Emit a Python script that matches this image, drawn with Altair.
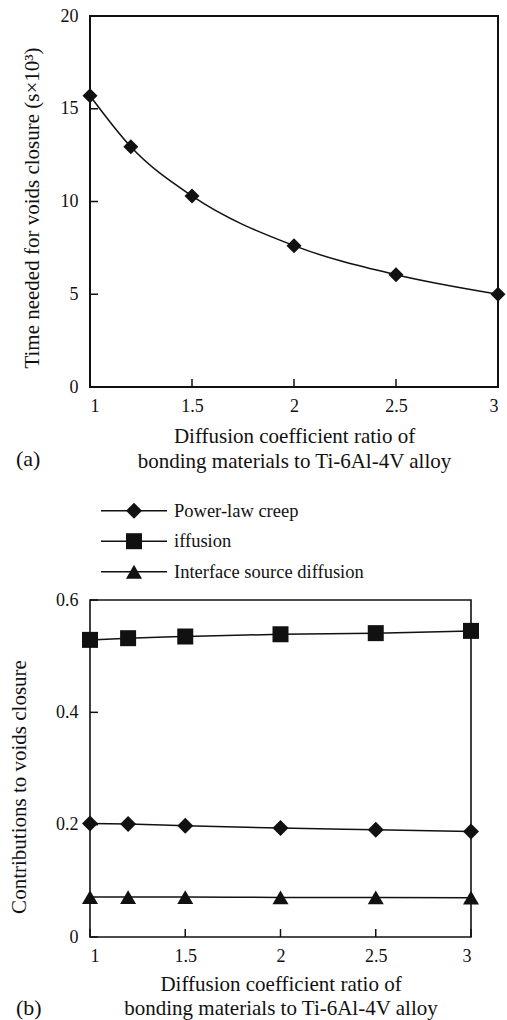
import altair as alt
import pandas as pd

# ---------------- data ----------------
ratio = [1, 1.2, 1.5, 2, 2.5, 3]
time_k = [15.7, 12.95, 10.3, 7.62, 6.05, 5.0]

series_names = ["Power-law creep", "iffusion", "Interface source diffusion"]
series_order = [0, 1, 2]
series_shapes = ["diamond", "square", "triangle-up"]
power_law = [0.202, 0.201, 0.198, 0.194, 0.191, 0.188]
diffusion = [0.529, 0.532, 0.535, 0.539, 0.541, 0.545]
interface = [0.071, 0.071, 0.071, 0.0705, 0.0705, 0.070]

x_ticks = [1, 1.5, 2, 2.5, 3]
y_ticks_a = [0, 5, 10, 15, 20]
y_ticks_b = [0, 0.2, 0.4, 0.6]

x_title = ["Diffusion coefficient ratio of", "bonding materials to Ti-6Al-4V alloy"]
y_title_a = "Time needed for voids closure (s×10³)"
y_title_b = "Contributions to voids closure"

FONT = "Liberation Serif"
INK = "#111111"

W1, H1 = 408, 371
W2, H2 = 381, 337
HL = 193
TICK = 8


def x_enc(tpad, lh):
    return alt.X(
        "ratio:Q",
        scale=alt.Scale(domain=[1, 3], nice=False, zero=False),
        axis=alt.Axis(values=x_ticks, format="~g", title=x_title,
                      labelPadding=10, titlePadding=tpad, titleLineHeight=lh),
    )


def y_enc(field, domain, ticks, title, tpad, title_y):
    return alt.Y(
        field,
        scale=alt.Scale(domain=domain, nice=False),
        axis=alt.Axis(values=ticks, format="~g", title=title,
                      labelPadding=12, titlePadding=tpad, titleY=title_y),
    )


# ---------------- panel (a) ----------------
df_a = pd.DataFrame({"ratio": ratio, "time": time_k})
df_xt = pd.DataFrame({"ratio": x_ticks})
df_yta = pd.DataFrame({"time": y_ticks_a})
xa = lambda: x_enc(10, 25)
ya = lambda: y_enc("time:Q", [0, 20], y_ticks_a, y_title_a, 18, H1 / 2 + 6)

line_a = alt.Chart(df_a).mark_line(color=INK, strokeWidth=1.5, interpolate="monotone").encode(x=xa(), y=ya())
pts_a = alt.Chart(df_a).mark_point(shape="diamond", filled=True, color=INK, opacity=1, size=225).encode(x=xa(), y=ya())
xt_a = alt.Chart(df_xt).mark_rule(color=INK, strokeWidth=1.5).encode(
    x=xa(), y=alt.value(H1), y2=alt.value(H1 - TICK))
yt_a = alt.Chart(df_yta).mark_rule(color=INK, strokeWidth=1.5).encode(
    y=ya(), x=alt.value(0), x2=alt.value(TICK))
lab_a = alt.Chart(pd.DataFrame({"label": ["(a)"]})).mark_text(
    align="left", baseline="alphabetic", font=FONT, fontSize=22, color=INK
).encode(text="label:N", x=alt.value(-74), y=alt.value(450))

panel_a = alt.layer(line_a, xt_a, yt_a, pts_a, lab_a).properties(
    width=W1, height=H1, view=alt.ViewBackground(stroke=INK, strokeWidth=2))

# ---------------- legend panel ----------------
df_leg = pd.DataFrame({"series": series_names, "order": series_order})
# rows 30.5 px apart, first row 113.7 px below the panel top
leg_y = alt.Y("order:Q", axis=None,
              scale=alt.Scale(domain=[-3.728, 2.600], nice=False, zero=False, reverse=True))
shape_enc = alt.Shape("series:N", scale=alt.Scale(domain=series_names, range=series_shapes), legend=None)

leg_rule = alt.Chart(df_leg).mark_rule(color=INK, strokeWidth=1.5).encode(
    y=leg_y, x=alt.value(11), x2=alt.value(77))
leg_pts = alt.Chart(df_leg).mark_point(filled=True, color=INK, opacity=1, size=256).encode(
    y=leg_y, x=alt.value(44), shape=shape_enc)
leg_txt = alt.Chart(df_leg).mark_text(align="left", baseline="middle", font=FONT, fontSize=18.5, color=INK).encode(
    y=leg_y, x=alt.value(84), text="series:N")
legend_panel = alt.layer(leg_rule, leg_pts, leg_txt).properties(
    width=300, height=HL, view=alt.ViewBackground(stroke="transparent"))

# ---------------- panel (b) ----------------
rows = []
for name, vals in zip(series_names, [power_law, diffusion, interface]):
    for r, v in zip(ratio, vals):
        rows.append({"ratio": r, "contribution": v, "series": name})
df_b = pd.DataFrame(rows)
df_ytb = pd.DataFrame({"contribution": y_ticks_b})
xb = lambda: x_enc(8, 24)
yb = lambda: y_enc("contribution:Q", [0, 0.6], y_ticks_b, y_title_b, 26, H2 / 2 + 18)

line_b = alt.Chart(df_b).mark_line(color=INK, strokeWidth=1.5, interpolate="monotone").encode(
    x=xb(), y=yb(), detail="series:N")
pts_b = alt.Chart(df_b).mark_point(filled=True, color=INK, opacity=1, size=256).encode(
    x=xb(), y=yb(), shape=shape_enc)
xt_b = alt.Chart(df_xt).mark_rule(color=INK, strokeWidth=1.5).encode(
    x=xb(), y=alt.value(H2), y2=alt.value(H2 - TICK))
yt_b = alt.Chart(df_ytb).mark_rule(color=INK, strokeWidth=1.5).encode(
    y=yb(), x=alt.value(0), x2=alt.value(TICK))
lab_b = alt.Chart(pd.DataFrame({"label": ["(b)"]})).mark_text(
    align="left", baseline="alphabetic", font=FONT, fontSize=22, color=INK
).encode(text="label:N", x=alt.value(-74), y=alt.value(415))

panel_b = alt.layer(line_b, xt_b, yt_b, pts_b, lab_b).properties(
    width=W2, height=H2, view=alt.ViewBackground(stroke=INK, strokeWidth=1.6))

chart = alt.vconcat(panel_a, legend_panel, panel_b, spacing=10, bounds="flush").properties(
    padding={"left": 7, "top": 6, "right": 0, "bottom": 0}, background="white"
).configure_axis(
    domain=False, ticks=False, grid=False,
    labelFont=FONT, labelFontSize=18, labelColor=INK,
    titleFont=FONT, titleFontSize=21, titleFontWeight="normal", titleColor=INK,
).configure_view(stroke=INK)

chart.save("out.html", embed_options={"renderer": "svg", "actions": False})
